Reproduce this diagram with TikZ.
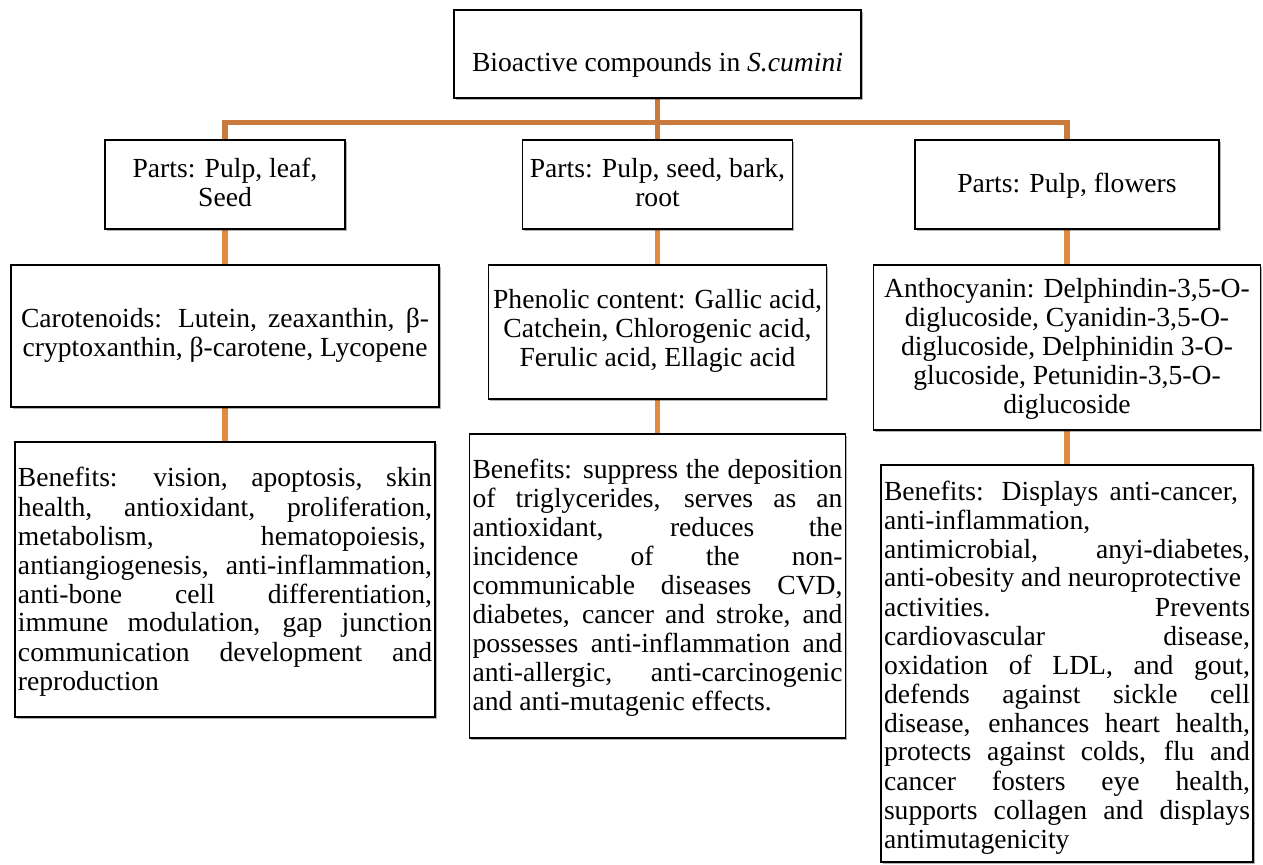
\documentclass[tikz,border=0pt]{standalone}
\usepackage{fontspec}
\setmainfont{Liberation Serif}
\usetikzlibrary{shadows,backgrounds}
\definecolor{lineA}{RGB}{201,122,60}
\definecolor{lineB}{RGB}{224,139,63}
\newcommand{\jl}[1]{\makebox[\linewidth][s]{#1}\par}
\newcommand{\jlw}[2]{\makebox[#1\linewidth][s]{#2}\hfill\par}
\begin{document}
\begin{tikzpicture}[x=0.5pt,y=-0.5pt,
  every node/.style={font=\fontsize{13.8}{14.5}\selectfont},
  box/.style={draw=black, line width=0.8pt, fill=white, inner sep=0pt,
    drop shadow={shadow xshift=0.9pt, shadow yshift=-0.9pt, opacity=0.3, fill=black}},
  trunk/.style={draw=lineA, line width=2.6pt},
  branch/.style={draw=lineB, line width=2.6pt}]
\useasboundingbox (0,0) rectangle (1263,865);

% top
\node[box] (top) at (657.5,54) {\parbox[c][44pt][t]{203.5pt}{\centering\rule{0pt}{31pt}Bioactive compounds in \textit{S.cumini}}};

% parts
\node[box] (p1) at (225,184.5) {\parbox[c][44.5pt][t]{120pt}{\centering\rule{0pt}{19pt}Parts: Pulp, leaf,\\ Seed}};
\node[box] (p2) at (657.5,184.5) {\parbox[c][44.5pt][t]{135pt}{\centering\rule{0pt}{19pt}Parts: Pulp, seed, bark,\\ root}};
\node[box] (p3) at (1067,184.5) {\parbox[c][44.5pt][t]{152pt}{\centering\rule{0pt}{26.5pt}Parts: Pulp, flowers}};

% compounds
\node[box] (c1) at (225,336) {\parbox[c][71pt][t]{214pt}{\centering\makebox[204pt][s]{\rule{0pt}{31.5pt}Carotenoids: Lutein, zeaxanthin, β-}\\ cryptoxanthin, β-carotene, Lycopene}};
\node[box] (c2) at (657.5,332) {\parbox[c][67pt][t]{169pt}{\centering\rule{0pt}{22pt}Phenolic content: Gallic acid,\\ Catchein, Chlorogenic acid,\\ Ferulic acid, Ellagic acid}};
\node[box] (c3) at (1067,347.5) {\parbox[c][82.5pt][t]{193.5pt}{\centering\rule{0pt}{16.5pt}Anthocyanin: Delphindin-3,5-O-\\ diglucoside, Cyanidin-3,5-O-\\ diglucoside, Delphinidin 3-O-\\ glucoside, Petunidin-3,5-O-\\ diglucoside}};

% benefits
\node[box] (b1) at (225,579.5) {\parbox[c][137.5pt][t]{210pt}{\centering\parbox[t]{207pt}{%
\jl{\rule{0pt}{22.5pt}Benefits: vision, apoptosis, skin}
\jl{health, antioxidant, proliferation,}
\jlw{0.985}{metabolism, hematopoiesis,}
\jl{antiangiogenesis, anti-inflammation,}
\jl{anti-bone cell differentiation,}
\jl{immune modulation, gap junction}
\jl{communication development and}
reproduction\par}}};

\node[box] (b2) at (657.5,586) {\parbox[c][152pt][t]{188pt}{\centering\parbox[t]{185pt}{%
\jl{\rule{0pt}{22pt}Benefits: suppress the deposition}
\jl{of triglycerides, serves as an}
\jl{antioxidant, reduces the}
\jl{incidence of the non-}
\jl{communicable diseases CVD,}
\jl{diabetes, cancer and stroke, and}
\jl{possesses anti-inflammation and}
\jl{anti-allergic, anti-carcinogenic}
and anti-mutagenic effects.\par}}};

\node[box] (b3) at (1067,663.5) {\parbox[c][198.5pt][t]{186pt}{\centering\parbox[t]{183pt}{%
\jlw{0.967}{\rule{0pt}{17.5pt}Benefits: Displays anti-cancer,}
anti-inflammation,\par
\jl{antimicrobial, anyi-diabetes,}
anti-obesity and neuroprotective\par
\jl{activities. Prevents}
\jl{cardiovascular disease,}
\jl{oxidation of LDL, and gout,}
\jl{defends against sickle cell}
\jl{disease, enhances heart health,}
\jl{protects against colds, flu and}
\jl{cancer fosters eye health,}
\jl{supports collagen and displays}
antimutagenicity\par}}};

\begin{pgfonlayer}{background}
\fill[white] (0,0) rectangle (1263,865);
\draw[trunk] (top.south) -- (p2.north);
\draw[trunk] (p1.north) -- ++(0,-17) -| (p3.north);
\draw[branch] (p1.south) -- (c1.north);
\draw[branch] (p2.south) -- (c2.north);
\draw[branch] (p3.south) -- (c3.north);
\draw[branch] (c1.south) -- (b1.north);
\draw[branch] (c2.south) -- (b2.north);
\draw[branch] (c3.south) -- (b3.north);
\end{pgfonlayer}
\end{tikzpicture}
\end{document}
